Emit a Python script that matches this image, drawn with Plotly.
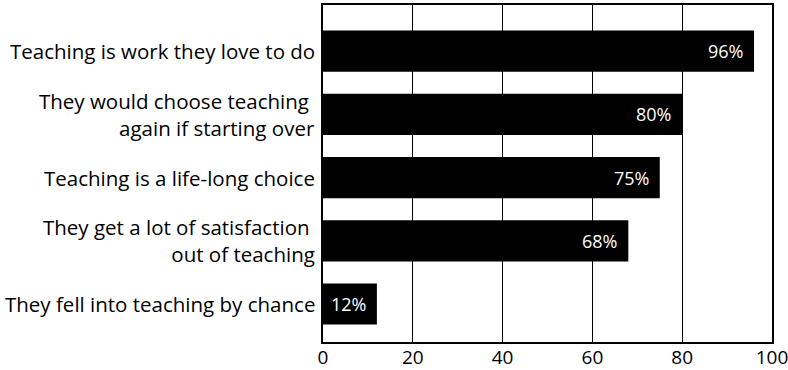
import plotly.graph_objects as go

# Survey statements (bottom to top) and share of teachers agreeing, in percent
statements = [
    "They fell into teaching by chance",
    "They get a lot of satisfaction\u00a0<br>out of teaching",
    "Teaching is a life-long choice",
    "They would choose teaching\u00a0<br>again if starting over",
    "Teaching is work they love to do",
]
shares = [12, 68, 75, 80, 96]
x_ticks = [0, 20, 40, 60, 80, 100]

FONT = "Open Sans"
LABEL_SIZE = 20.5

fig = go.Figure()
fig.add_trace(go.Bar(
    x=shares,
    y=list(range(len(statements))),
    orientation="h",
    marker=dict(color="black", line=dict(width=0)),
    width=0.65,
    hoverinfo="skip",
))

# value labels inside the end of each bar
for i, v in enumerate(shares):
    fig.add_annotation(
        x=v, y=i, text=f"{v}%", showarrow=False,
        xanchor="right", yanchor="middle", xshift=-9,
        font=dict(family=FONT, size=18, color="white"),
    )

# category labels, right-aligned against the left axis
for i, s in enumerate(statements):
    fig.add_annotation(
        xref="paper", x=0, yref="y", y=i, text=s, showarrow=False,
        xanchor="right", yanchor="middle", align="right", xshift=-6,
        font=dict(family=FONT, size=LABEL_SIZE, color="black"),
    )

fig.update_layout(
    width=788, height=370,
    margin=dict(l=323, r=16, t=5, b=28),
    paper_bgcolor="white", plot_bgcolor="white",
    showlegend=False,
    font=dict(family=FONT, size=19, color="black"),
    xaxis=dict(
        range=[0, 100], tickvals=x_ticks, ticktext=[str(t) for t in x_ticks],
        showgrid=True, gridcolor="black", gridwidth=1,
        showline=True, linecolor="black", linewidth=1.5, mirror=True,
        zeroline=False, ticks="", ticklabelstandoff=-3,
        ticklabeloverflow="allow", automargin=False,
        tickfont=dict(family=FONT, size=19, color="black"),
    ),
    yaxis=dict(
        range=[-0.6, 4.73],
        tickvals=list(range(len(statements))), showticklabels=False,
        showgrid=False, zeroline=False, automargin=False,
        showline=True, linecolor="black", linewidth=1.5, mirror=True,
        ticks="",
    ),
)

fig.write_html("out.html")
